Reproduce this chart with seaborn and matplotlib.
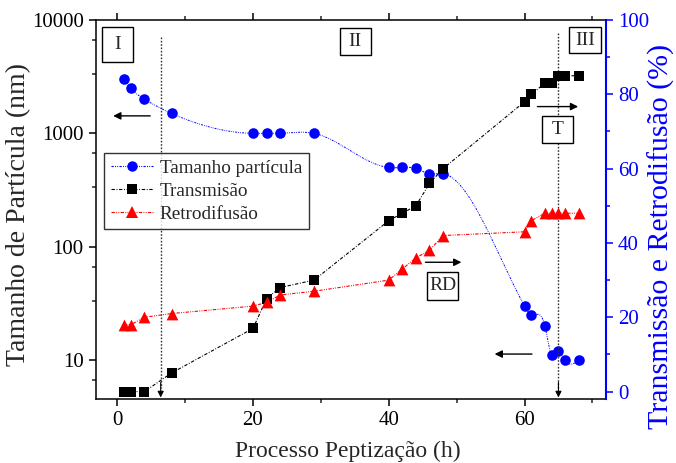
import numpy as np
import matplotlib
matplotlib.use("Agg")
import matplotlib.pyplot as plt
from matplotlib.lines import Line2D
from matplotlib.patches import Rectangle
from matplotlib.ticker import FixedLocator, NullFormatter
import seaborn as sns

# Processo de peptização: tempo (h)
horas = [1, 2, 4, 8, 20, 22, 24, 29, 40, 42, 44, 46, 48, 60, 61, 63, 64, 65, 66, 68]
# Tamanho de partícula (nm) - eixo esquerdo (log)
tamanho = [3000, 2500, 2000, 1500, 1000, 1000, 1000, 1000, 500, 500, 490, 440, 440,
           30, 25, 20, 11, 12, 10, 10]
# Transmissão (%) - eixo direito
transmissao = [0, 0, 0, 5, 17, 25, 28, 30, 46, 48, 50, 56, 60, 78, 80, 83, 83, 85, 85, 85]
# Retrodifusão (%) - eixo direito
retrodifusao = [18, 18, 20, 21, 23, 24, 26, 27, 30, 33, 36, 38, 42, 43, 46, 48, 48, 48, 48, 48]

left_ticks = [10, 100, 1000, 10000]
right_ticks = [0, 20, 40, 60, 80, 100]
x_ticks = [0, 20, 40, 60]


def natural_spline(x, y, n=400):
    """Natural cubic spline through (x, y), evaluated on a fine grid."""
    x = np.asarray(x, float)
    y = np.asarray(y, float)
    k = len(x)
    h = np.diff(x)
    A = np.zeros((k, k))
    b = np.zeros(k)
    A[0, 0] = A[-1, -1] = 1.0
    for i in range(1, k - 1):
        A[i, i - 1] = h[i - 1]
        A[i, i] = 2 * (h[i - 1] + h[i])
        A[i, i + 1] = h[i]
        b[i] = 3 * ((y[i + 1] - y[i]) / h[i] - (y[i] - y[i - 1]) / h[i - 1])
    c = np.linalg.solve(A, b)
    xs = np.linspace(x[0], x[-1], n)
    idx = np.clip(np.searchsorted(x, xs) - 1, 0, k - 2)
    dx = xs - x[idx]
    hi = h[idx]
    bi = (y[idx + 1] - y[idx]) / hi - hi * (2 * c[idx] + c[idx + 1]) / 3
    di = (c[idx + 1] - c[idx]) / (3 * hi)
    ys = y[idx] + bi * dx + c[idx] * dx ** 2 + di * dx ** 3
    return xs, ys


sns.set_style("ticks")
plt.rcParams["font.family"] = ["Liberation Serif", "DejaVu Serif"]
plt.rcParams["mathtext.fontset"] = "stix"

fig = plt.figure(figsize=(6.76, 4.63), dpi=100)
ax = fig.add_axes([0.1413, 0.1382, 0.7551, 0.8186])
ax2 = ax.twinx()

ls_blue = (0, (2.0, 1.2, 0.8, 1.2, 0.8, 1.2))
ls_black = (0, (3.0, 1.5, 0.8, 1.5))
ls_red = (0, (3.0, 1.2, 0.8, 1.2, 0.8, 1.2))

# Tamanho de partícula: spline em escala log + marcadores
sx, sy = natural_spline(horas, np.log10(tamanho))
ax.plot(sx, 10 ** sy, color="blue", lw=0.7, ls=ls_blue, zorder=2)
sns.scatterplot(x=horas, y=tamanho, ax=ax, color="blue", marker="o", s=58,
                linewidth=0, zorder=3)

# Transmissão e retrodifusão no eixo direito
sns.lineplot(x=horas, y=transmissao, ax=ax2, color="black", lw=0.8,
             linestyle=ls_black, estimator=None, zorder=2)
sns.scatterplot(x=horas, y=transmissao, ax=ax2, color="black", marker="s", s=50,
                linewidth=0, zorder=3)
sns.lineplot(x=horas, y=retrodifusao, ax=ax2, color="red", lw=0.8,
             linestyle=ls_red, estimator=None, zorder=2)
sns.scatterplot(x=horas, y=retrodifusao, ax=ax2, color="red", marker="^", s=72,
                linewidth=0, zorder=3)

# Eixos
ax.set_xlim(-3.2, 72)
ax.set_yscale("log")
ax.set_ylim(4.53, 10000)
ax.yaxis.set_major_locator(FixedLocator(left_ticks))
ax.set_yticklabels([str(t) for t in left_ticks])
minors = [m * 10 ** e for e in range(0, 4) for m in (3.333, 6.667)]
ax.yaxis.set_minor_locator(FixedLocator(minors))
ax.yaxis.set_minor_formatter(NullFormatter())
ax.xaxis.set_major_locator(FixedLocator(x_ticks))
ax.xaxis.set_minor_locator(FixedLocator([10, 30, 50, 70]))

ax2.set_ylim(-2, 100)
ax2.yaxis.set_major_locator(FixedLocator(right_ticks))
ax2.yaxis.set_minor_locator(FixedLocator([10, 30, 50, 70, 90]))

for a in (ax, ax2):
    for s in a.spines.values():
        s.set_linewidth(1.1)
        s.set_color("black")
ax.spines["right"].set_visible(False)
for side in ("left", "top", "bottom"):
    ax2.spines[side].set_visible(False)
ax2.spines["right"].set_color("blue")
ax2.spines["right"].set_linewidth(1.5)

ax.tick_params(axis="both", which="major", direction="out", length=5, width=1.1,
               labelsize=15, colors="black", top=True, right=False)
ax.tick_params(axis="both", which="minor", direction="out", length=3, width=1.1,
               top=True, right=False)
ax2.tick_params(axis="y", which="major", direction="out", length=5, width=1.1,
                labelsize=15, colors="blue")
ax2.tick_params(axis="y", which="minor", direction="out", length=3, width=1.1,
                colors="blue")

ax.set_xlabel("Processo Peptização (h)", fontsize=17)
ax.set_ylabel("Tamanho de Partícula (nm)", fontsize=20)
ax2.set_ylabel("Transmissão e Retrodifusão (%)", fontsize=21.5, color="blue")
ax.xaxis.label.set_verticalalignment("center")
ax.yaxis.label.set_verticalalignment("center")
ax2.yaxis.label.set_verticalalignment("center")
ax.xaxis.set_label_coords(0.495, -0.137)
ax.yaxis.set_label_coords(-0.150, 0.488)
ax2.yaxis.set_label_coords(1.108, 0.428)

# Linhas verticais separando as regiões
for xv, ytop in ((6.4, 95.4), (65, 96.5)):
    ax2.plot([xv, xv], [ytop, 1.0], color="#333333", lw=1.0, ls=(0, (1.2, 1.2)), zorder=1)
    ax2.annotate("", xy=(xv, -1.6), xytext=(xv, 2.5),
                 arrowprops=dict(arrowstyle="-|>", color="black", lw=0.8,
                                 mutation_scale=9, shrinkA=0, shrinkB=0))

# Setas indicando o eixo de cada série
for x0, x1, yv in ((4.85, -0.6, 74.2), (61.9, 67.9, 76.7),
                   (45.4, 50.7, 34.8), (61.1, 55.6, 10.1)):
    ax2.annotate("", xy=(x1, yv), xytext=(x0, yv),
                 arrowprops=dict(arrowstyle="-|>", color="black", lw=1.0,
                                 mutation_scale=11, shrinkA=0, shrinkB=0))

# Caixas de rótulo
boxes = [("I", 0.0133, 0.8900, 0.0607, 0.0923),
         ("II", 0.4789, 0.9077, 0.0602, 0.0720),
         ("III", 0.9275, 0.9137, 0.0621, 0.0670),
         ("T", 0.8741, 0.6747, 0.0607, 0.0728),
         ("RD", 0.6488, 0.2612, 0.0619, 0.0747)]
for txt, bx, by, bw, bh in boxes:
    ax2.add_patch(Rectangle((bx, by), bw, bh, transform=ax2.transAxes, fill=True,
                            facecolor="white", edgecolor="black", lw=1.0, zorder=4))
    ax2.text(bx + bw / 2, by + bh / 2, txt, transform=ax2.transAxes, ha="center",
             va="center", fontsize=14, zorder=5)

handles = [
    Line2D([], [], color="blue", lw=0.8, ls=ls_blue, marker="o", ms=7.5, mew=0),
    Line2D([], [], color="black", lw=0.8, ls=ls_black, marker="s", ms=6.5, mew=0),
    Line2D([], [], color="red", lw=0.8, ls=ls_red, marker="^", ms=8, mew=0),
]
leg = ax2.legend(handles, ["Tamanho partícula", "Transmisão", "Retrodifusão"],
                 loc="upper left", bbox_to_anchor=(0.0167, 0.6491), borderaxespad=0,
                 fontsize=13.8, frameon=True, fancybox=False, handlelength=2.2,
                 handletextpad=0.35, labelspacing=0.28, borderpad=0.35)
leg.get_frame().set_edgecolor("black")
leg.get_frame().set_linewidth(1.0)
leg.set_zorder(6)

fig.savefig("out.png", dpi=100)
